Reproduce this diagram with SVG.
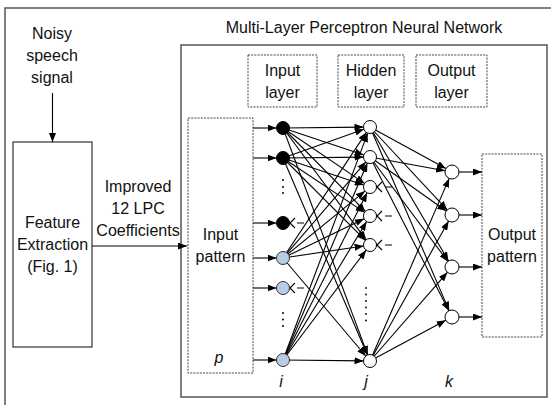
<svg xmlns="http://www.w3.org/2000/svg" width="551" height="405" viewBox="0 0 551 405">
<defs>
<marker id="ah" markerUnits="userSpaceOnUse" markerWidth="9" markerHeight="7" refX="9" refY="3.5" orient="auto"><path d="M0,0 L9,3.5 L0,7 z" fill="#000"/></marker>
<style>
text{font-family:"Liberation Sans",Arial,sans-serif;font-size:16px;fill:#111;text-anchor:middle}
.it{font-style:italic}
.frame{fill:none;stroke:#555;stroke-width:1.5}
.box{fill:none;stroke:#333;stroke-width:1.2}
.dash{fill:none;stroke:#444;stroke-width:1;stroke-dasharray:2,1.2}
.c{stroke:#000;stroke-width:1.1;fill:none}
.a{stroke:#000;stroke-width:1.1;fill:none;marker-end:url(#ah)}
.blk{fill:#000;stroke:#000;stroke-width:1}
.blu{fill:#b8cce4;stroke:#333;stroke-width:1}
.wht{fill:#fff;stroke:#000;stroke-width:1}
.dot{fill:#000}
</style>
</defs>
<rect x="5" y="8" width="560" height="420" class="frame"/>
<rect x="181" y="45" width="366" height="352" class="frame"/>
<text x="364" y="33">Multi-Layer Perceptron Neural Network</text>

<g id="noisy-speech">
<text x="52" y="39">Noisy</text>
<text x="52" y="61">speech</text>
<text x="52" y="83">signal</text>
</g>
<g id="feature-extraction">
<rect x="13" y="142" width="79" height="205" class="box"/>
<text x="52.5" y="228">Feature</text>
<text x="52.5" y="250">Extraction</text>
<text x="52.5" y="272">(Fig. 1)</text>
</g>
<g id="lpc-label">
<text x="138" y="192">Improved</text>
<text x="138" y="214">12 LPC</text>
<text x="138" y="236">Coefficients</text>
</g>
<g id="input-layer-label">
<rect x="248" y="55" width="69" height="52" class="dash"/>
<text x="282.5" y="76">Input</text>
<text x="282.5" y="98">layer</text>
</g>
<g id="hidden-layer-label">
<rect x="338" y="55" width="66" height="52" class="dash"/>
<text x="371" y="76">Hidden</text>
<text x="371" y="98">layer</text>
</g>
<g id="output-layer-label">
<rect x="416" y="55" width="71" height="52" class="dash"/>
<text x="451.5" y="76">Output</text>
<text x="451.5" y="98">layer</text>
</g>
<g id="input-pattern">
<rect x="188" y="118" width="65" height="255" class="dash"/>
<text x="220.5" y="240">Input</text>
<text x="220.5" y="262">pattern</text>
<text x="219" y="363" class="it">p</text>
</g>
<g id="output-pattern">
<rect x="482" y="154" width="60" height="183" class="dash"/>
<text x="512" y="240">Output</text>
<text x="512" y="262">pattern</text>
</g>

<g id="connectors">
<line x1="52.5" y1="93" x2="52.5" y2="142" class="a"/>
<line x1="92" y1="246" x2="187" y2="246" class="a"/>
<line x1="253" y1="128" x2="276.5" y2="128" class="a"/>
<line x1="253" y1="158" x2="276.5" y2="158" class="a"/>
<line x1="253" y1="223" x2="276.5" y2="223" class="a"/>
<line x1="253" y1="258" x2="276.5" y2="258" class="a"/>
<line x1="253" y1="288" x2="276.5" y2="288" class="a"/>
<line x1="253" y1="360" x2="276.5" y2="360" class="a"/>
<line x1="459" y1="172" x2="482" y2="172" class="a"/>
<line x1="459" y1="215" x2="482" y2="215" class="a"/>
<line x1="459" y1="267" x2="482" y2="267" class="a"/>
<line x1="459" y1="317" x2="482" y2="317" class="a"/>
<!-- input to hidden -->
<line x1="283" y1="128" x2="363.5" y2="127.1" class="a"/>
<line x1="283" y1="128" x2="363.8" y2="154.9" class="a"/>
<line x1="283" y1="128" x2="364.6" y2="183.4" class="a"/>
<line x1="283" y1="128" x2="365.4" y2="211.4" class="a"/>
<line x1="283" y1="128" x2="366.1" y2="239.8" class="a"/>
<line x1="283" y1="128" x2="367.7" y2="354.9" class="a"/>
<line x1="283" y1="158" x2="363.9" y2="129.2" class="a"/>
<line x1="283" y1="158" x2="363.5" y2="157.1" class="a"/>
<line x1="283" y1="158" x2="363.8" y2="184.9" class="a"/>
<line x1="283" y1="158" x2="364.6" y2="212.4" class="a"/>
<line x1="283" y1="158" x2="365.4" y2="240.4" class="a"/>
<line x1="283" y1="158" x2="367.4" y2="355.0" class="a"/>
<line x1="283" y1="258" x2="366.4" y2="132.4" class="a"/>
<line x1="283" y1="258" x2="365.8" y2="161.9" class="a"/>
<line x1="283" y1="258" x2="365.0" y2="191.1" class="a"/>
<line x1="283" y1="258" x2="364.1" y2="218.8" class="a"/>
<line x1="283" y1="258" x2="363.6" y2="246.0" class="a"/>
<line x1="283" y1="258" x2="365.8" y2="356.0" class="a"/>
<line x1="283" y1="360" x2="367.7" y2="133.1" class="a"/>
<line x1="283" y1="360" x2="367.4" y2="163.0" class="a"/>
<line x1="283" y1="360" x2="367.1" y2="192.8" class="a"/>
<line x1="283" y1="360" x2="366.6" y2="221.6" class="a"/>
<line x1="283" y1="360" x2="366.1" y2="250.2" class="a"/>
<line x1="283" y1="360" x2="363.5" y2="360.9" class="a"/>
<!-- hidden to output -->
<line x1="370" y1="127" x2="445.9" y2="168.6" class="a"/>
<line x1="370" y1="127" x2="447.2" y2="209.9" class="a"/>
<line x1="370" y1="127" x2="448.5" y2="261.0" class="a"/>
<line x1="370" y1="127" x2="449.2" y2="310.6" class="a"/>
<line x1="370" y1="157" x2="445.1" y2="170.7" class="a"/>
<line x1="370" y1="157" x2="446.3" y2="211.0" class="a"/>
<line x1="370" y1="157" x2="447.8" y2="261.4" class="a"/>
<line x1="370" y1="157" x2="448.8" y2="310.8" class="a"/>
<line x1="370" y1="361" x2="449.2" y2="178.4" class="a"/>
<line x1="370" y1="361" x2="448.6" y2="221.1" class="a"/>
<line x1="370" y1="361" x2="447.4" y2="272.3" class="a"/>
<line x1="370" y1="361" x2="445.8" y2="320.3" class="a"/>
<!-- dropped-unit marks -->
<path class="c" d="M285,218 L295,228 M285,228 L295,218 M297,223 H304"/>
<path class="c" d="M285,283 L295,293 M285,293 L295,283 M297,288 H304"/>
<path class="c" d="M372,182 L382,192 M372,192 L382,182 M385,187 H392"/>
<path class="c" d="M372,211 L382,221 M372,221 L382,211 M385,216 H392"/>
<path class="c" d="M372,240 L382,250 M372,250 L382,240 M385,245 H392"/>
</g>

<g id="input-neurons">
<circle cx="283" cy="128" r="6.5" class="blk"/>
<circle cx="283" cy="158" r="6.5" class="blk"/>
<circle cx="283" cy="180" r="1" class="dot"/>
<circle cx="283" cy="187" r="1" class="dot"/>
<circle cx="283" cy="193" r="1" class="dot"/>
<circle cx="283" cy="223" r="6.5" class="blk"/>
<circle cx="283" cy="258" r="6.5" class="blu"/>
<circle cx="283" cy="288" r="6.5" class="blu"/>
<circle cx="283" cy="313" r="1" class="dot"/>
<circle cx="283" cy="319.5" r="1" class="dot"/>
<circle cx="283" cy="326" r="1" class="dot"/>
<circle cx="283" cy="360" r="6.5" class="blu"/>
<text x="281" y="387" class="it">i</text>
</g>
<g id="hidden-neurons">
<circle cx="370" cy="127" r="6.5" class="wht"/>
<circle cx="370" cy="157" r="6.5" class="wht"/>
<circle cx="370" cy="187" r="6.5" class="wht"/>
<circle cx="370" cy="216" r="6.5" class="wht"/>
<circle cx="370" cy="245" r="6.5" class="wht"/>
<circle cx="366" cy="288" r="0.9" class="dot"/>
<circle cx="366" cy="294.5" r="0.9" class="dot"/>
<circle cx="366" cy="301" r="0.9" class="dot"/>
<circle cx="366" cy="307.5" r="0.9" class="dot"/>
<circle cx="366" cy="314" r="0.9" class="dot"/>
<circle cx="366" cy="320.5" r="0.9" class="dot"/>
<circle cx="370" cy="361" r="6.5" class="wht"/>
<text x="366" y="387" class="it">j</text>
</g>
<g id="output-neurons">
<circle cx="452" cy="172" r="7" class="wht"/>
<circle cx="452" cy="215" r="7" class="wht"/>
<circle cx="452" cy="267" r="7" class="wht"/>
<circle cx="452" cy="317" r="7" class="wht"/>
<text x="449" y="387" class="it">k</text>
</g>
</svg>
